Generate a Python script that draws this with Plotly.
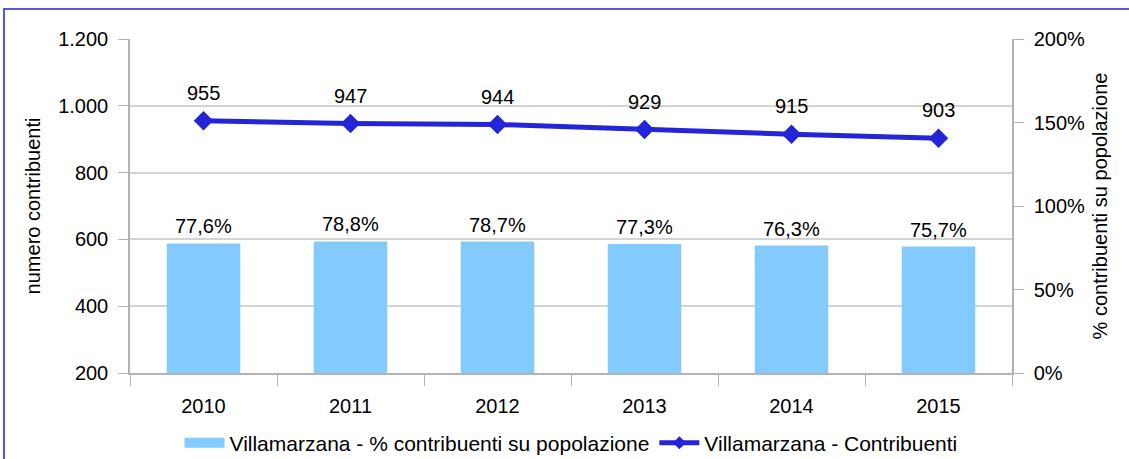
import plotly.graph_objects as go

years = ["2010", "2011", "2012", "2013", "2014", "2015"]
contribuenti = [955, 947, 944, 929, 915, 903]
perc_popolazione = [77.6, 78.8, 78.7, 77.3, 76.3, 75.7]

bar_name = "Villamarzana - % contribuenti su popolazione"
line_name = "Villamarzana - Contribuenti"
left_title = "numero contribuenti"
right_title = "% contribuenti su popolazione"
left_ticks = [200, 400, 600, 800, 1000, 1200]
right_ticks = [0, 50, 100, 150, 200]

FONT = "Liberation Sans, Arial, sans-serif"
GRAY = "#b3b3b3"
BAR_C = "#83caff"
LINE_C = "#2424d8"
FS = 20

fig = go.Figure()
fig.add_trace(go.Bar(
    x=years, y=perc_popolazione, name=bar_name, yaxis="y2",
    marker=dict(color=BAR_C, line=dict(width=0)), width=0.5, showlegend=False,
))
fig.add_trace(go.Scatter(
    x=years, y=contribuenti, name=line_name, yaxis="y",
    mode="lines+markers", showlegend=False,
    line=dict(color=LINE_C, width=5),
    marker=dict(symbol="diamond", size=15, color=LINE_C),
))
# legend entries (no marks drawn)
fig.add_trace(go.Scatter(x=[None], y=[None], name=bar_name, mode="lines",
                         line=dict(color=BAR_C, width=13)))
fig.add_trace(go.Scatter(x=[None], y=[None], name=line_name, mode="lines+markers",
                         line=dict(color=LINE_C, width=5),
                         marker=dict(symbol="diamond", size=10, color=LINE_C)))

annotations = []
for i, yv in enumerate(contribuenti):
    annotations.append(dict(x=i, y=yv, xref="x", yref="y", text=f"{yv}",
                            showarrow=False, yshift=28,
                            font=dict(family=FONT, size=FS, color="#000")))
for i, yv in enumerate(perc_popolazione):
    annotations.append(dict(x=i, y=yv, xref="x", yref="y2",
                            text=f"{yv:.1f}%".replace(".", ","),
                            showarrow=False, yshift=17,
                            font=dict(family=FONT, size=FS, color="#000")))

fig.update_layout(
    width=1129, height=459,
    margin=dict(l=130, r=117, t=39, b=86, autoexpand=False),
    paper_bgcolor="white", plot_bgcolor="white",
    separators=",.",
    font=dict(family=FONT, size=FS, color="#000"),
    showlegend=True,
    legend=dict(orientation="h", x=0.5, xanchor="center", y=-0.21, yanchor="middle",
                font=dict(family=FONT, size=21), traceorder="normal", itemwidth=40),
    xaxis=dict(type="category", range=[-0.5, 5.5], tickson="boundaries",
               ticks="outside", ticklen=11,
               tickcolor=GRAY, showline=True, linecolor=GRAY, linewidth=1.5,
               showgrid=False, tickfont=dict(size=FS), tickangle=0,
               ticklabelstandoff=14),
    yaxis=dict(range=[200, 1200], tickvals=left_ticks,
               ticktext=[f"{v:,}".replace(",", ".") for v in left_ticks],
               ticks="outside", ticklen=10, tickcolor=GRAY,
               showline=True, linecolor=GRAY, linewidth=1.5,
               showgrid=True, gridcolor="#d4d4d4", gridwidth=1.5,
               tickfont=dict(size=FS), ticklabelstandoff=6,
               zeroline=False,
               title=dict(text=left_title, font=dict(size=FS), standoff=12)),
    yaxis2=dict(range=[0, 200], tickvals=right_ticks,
                ticktext=[f"{v}%" for v in right_ticks],
                overlaying="y", side="right", ticks="outside", ticklen=10,
                tickcolor=GRAY, showline=True, linecolor=GRAY, linewidth=1.5,
                showgrid=False, zeroline=False, tickfont=dict(size=FS),
                ticklabelstandoff=6,
                title=dict(text=right_title, font=dict(size=FS), standoff=9)),
    annotations=annotations,
    shapes=[dict(type="rect", xref="paper", yref="paper",
                 x0=-0.1429, y0=1.0898, x1=1.3, y1=-0.5,
                 line=dict(color="#5656e0", width=2), layer="above")],
)

fig.write_html("out.html", config={"displayModeBar": False},
               post_script="document.body.style.margin='0';document.body.style.padding='0';")
